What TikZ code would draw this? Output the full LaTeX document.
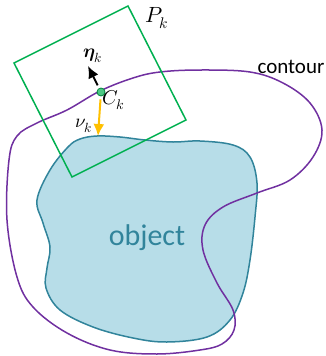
\documentclass[tikz,border=0pt]{standalone}
\usepackage{fontspec}
\usepackage{unicode-math}
\setmathfont{Latin Modern Math}
\newfontfamily\carl{Carlito}
\usetikzlibrary{arrows.meta}
\definecolor{cgreen}{HTML}{00B050}
\definecolor{cpurple}{HTML}{7030A0}
\definecolor{cteal}{HTML}{31849B}
\definecolor{cfill}{HTML}{B7DDE8}
\definecolor{cyellow}{HTML}{FFC000}
\tikzset{
  objline/.style={draw=cteal, line width=1.5pt, fill=cfill},
  contline/.style={draw=cpurple, line width=1.5pt},
  patch/.style={draw=cgreen, line width=1.5pt},
  vecarrow/.style={line width=2pt, -{Latex[length=12pt,width=11pt]}},
  mathlbl/.style={inner sep=1pt, font=\fontsize{20}{22}\selectfont},
}
\begin{document}
\begin{tikzpicture}[x=1pt,y=-1pt]
\useasboundingbox (0,0) rectangle (325,356);
% object
\draw[objline] plot[smooth cycle, tension=0.6] coordinates {
 (97,136) (120,137) (145,140) (173,142) (200,141) (233,145) (250,157) (257,183)
 (255,217) (250,260) (243,293) (230,320) (207,337) (167,342) (133,338) (93,327)
 (60,310) (46,288) (47,268) (50,247) (43,223) (37,200) (50,170) (68,147) (80,139)};
\node[text=cteal, font=\carl\fontsize{30}{32}\selectfont] (obj) at (147,238) {object};
% contour
\draw[contline] plot[smooth cycle, tension=0.6] coordinates {
 (37,123) (67,110) (100,91) (133,78) (160,72) (200,70) (250,72) (283,83) (310,103)
 (322,130) (313,157) (290,180) (257,193) (223,207) (205,225) (203,250) (217,283)
 (233,310) (234,330) (222,344) (200,350) (157,354) (110,350) (67,333) (33,307)
 (17,277) (7,220) (9,160) (17,136)};
\node[font=\carl\fontsize{21}{24}\selectfont, anchor=west] (ct) at (254,67) {contour};
% patch
\draw[patch] (128,6) -- (186,120) -- (72,177) -- (14,63) -- cycle;
\node[mathlbl, font=\fontsize{22}{24}\selectfont] (P) at (157,18) {$P_k$};
% centre
\node[circle, draw=cgreen!75!black, fill=cgreen!70, line width=0.8pt, inner sep=0pt, minimum size=8pt] (C) at (101,92) {};
\node[mathlbl, anchor=west] (Cl) at (101,100) {$C_k$};
\coordinate (etaend) at (88,66);
\coordinate (nuend) at (98,136);
\draw[vecarrow, black, shorten <=3pt] (C) -- (etaend);
\draw[vecarrow, cyellow, shorten <=3pt] (C) -- (nuend);
\node[mathlbl, font=\fontsize{19}{21}\selectfont] (eta) at (93,56) {$\symbf{\eta}_k$};
\node[mathlbl, font=\fontsize{19}{21}\selectfont] (nu) at (84,126) {$\nu_k$};
\end{tikzpicture}
\end{document}
